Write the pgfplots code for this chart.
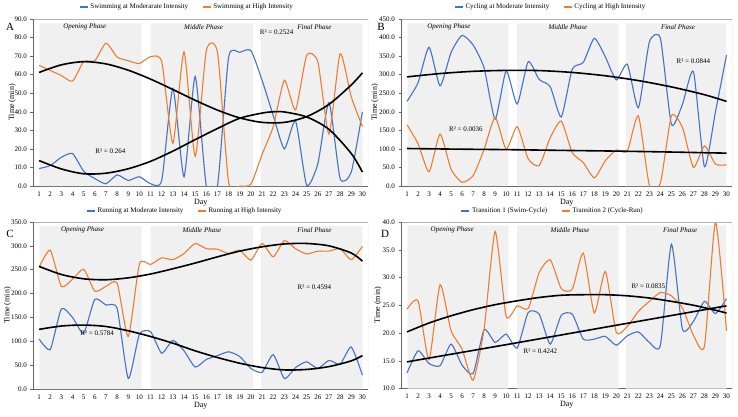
\documentclass[border=0pt]{standalone}
\usepackage{pgfplots}
\pgfplotsset{compat=1.18}
\usepackage{fontspec}
\setmainfont{Liberation Serif}

\definecolor{modblue}{HTML}{4472C4}
\definecolor{highorange}{HTML}{ED7D31}
\definecolor{phasegray}{HTML}{F0F0F0}

\tikzset{
  phase/.style={font=\itshape\fontsize{7}{8}\selectfont},
  rsq/.style={font=\fontsize{7}{8}\selectfont},
  letter/.style={font=\fontsize{11}{13}\selectfont},
}

\pgfplotsset{
  panel/.style={
    scale only axis,
    anchor=south west,
    xmin=0.5, xmax=30.5,
    xtick={1,...,30},
    axis lines*=left,
    axis line style={black!60, line width=0.6pt},
    tick align=outside,
    major tick length=3pt,
    xtick style={draw=none},
    ytick style={black!60, line width=0.5pt},
    tick label style={font=\fontsize{7}{8}\selectfont},
    xticklabel style={yshift=1pt},
    yticklabel style={/pgf/number format/fixed, /pgf/number format/fixed zerofill, /pgf/number format/precision=1},
    /pgf/number format/assume math mode=true,
    label style={font=\fontsize{8}{9}\selectfont},
    xlabel={Day},
    ylabel={Time (min)},
    xlabel style={yshift=4pt},
    ylabel style={anchor=center},
    legend columns=2,
    legend style={draw=none, fill=none, anchor=center,
      font=\fontsize{7}{8}\selectfont,
      /tikz/every even column/.append style={column sep=12pt}},
    legend image code/.code={\draw[#1] (0pt,0pt) -- (8pt,0pt);},
  },
  band/.style={fill=phasegray, draw=none, forget plot},
  series/.style={smooth, tension=0.35, no markers, line width=1.1pt},
  trend/.style={black, smooth, tension=0.5, no markers, line width=1.6pt, forget plot},
}

\begin{document}
\begin{tikzpicture}
\path[use as bounding box] (0pt,0pt) rectangle (738pt,416pt);

% ---------------- A: swimming ----------------
\begin{axis}[panel, at={(33.5pt,230pt)}, width=334.5pt, height=167pt,
  ymin=0, ymax=90, ytick={0,10,...,90},
  ylabel style={at={(axis description cs:-0.064,0.5)}},
  legend style={at={(0.459,1.072)}}]
\addplot[band] coordinates {(1.05,0)(1.05,87.7)(10.2,87.7)(10.2,0)} \closedcycle;
\addplot[band] coordinates {(11.0,0)(11.0,87.7)(20.2,87.7)(20.2,0)} \closedcycle;
\addplot[band] coordinates {(20.9,0)(20.9,87.7)(30,87.7)(30,0)} \closedcycle;
\addplot[series, modblue] coordinates {
 (1,9.4)(2,11)(3,15.5)(4,17.5)(5,8)(6,4)(7,1.2)(8,6)(9,3)(10,5)
 (11,1.2)(12,3)(13,52.6)(14,5)(15,59)(16,0)(17,0)(18,69.5)(19,72)(20,73)
 (21,57)(22,38)(23,20)(24,35)(25,0.4)(26,12)(27,45)(28,4)(29,7.5)(30,40)};
\addlegendentry{Swimming at Moderarate Intensity}
\addplot[series, highorange] coordinates {
 (1,65)(2,62.3)(3,59.5)(4,56.5)(5,67)(6,67.5)(7,77)(8,69.5)(9,67.5)(10,66)
 (11,69.7)(12,67)(13,23)(14,72.3)(15,16)(16,73)(17,72)(18,2)(19,0)(20,1)
 (21,17)(22,32)(23,57)(24,41)(25,70.5)(26,67)(27,28)(28,71.3)(29,48)(30,32)};
\addlegendentry{Swimming at High Intensity}
\addplot[trend] coordinates {
 (1,13.7)(3,9.2)(5,6.6)(7,6.9)(9,9.3)(11,13.3)(13,18.8)(15,25)(17,31)(19,36.5)
 (21,39.3)(22,40)(23,39.9)(25,37.2)(27,30.5)(29,17.5)(30,7.5)};
\addplot[trend] coordinates {
 (1,61.2)(3,65.3)(5,67)(7,65.8)(9,62.4)(11,57.6)(13,52)(15,46.2)(17,40.9)(19,36.7)
 (21,34.3)(23,34.3)(25,37.4)(27,44)(29,54.5)(30,61)};
\node[phase] at (axis cs:5.1,85.7) {Opening Phase};
\node[phase] at (axis cs:15.75,85.7) {Middle Phase};
\node[phase] at (axis cs:25.7,85.7) {Final Phase};
\node[rsq] at (axis cs:22.3,83) {R² = 0.2524};
\node[rsq] at (axis cs:7.4,18.7) {R² = 0.264};
\draw[black!30] (rel axis cs:0,1) -- (rel axis cs:1,1) -- (rel axis cs:1,0);
\end{axis}

% ---------------- B: cycling ----------------
\begin{axis}[panel, at={(401.5pt,230pt)}, width=330.5pt, height=167pt,
  ymin=0, ymax=450, ytick={0,50,...,450},
  ylabel style={at={(axis description cs:-0.08,0.5)}},
  legend style={at={(0.452,1.072)}}]
\addplot[band] coordinates {(1.05,0)(1.05,438)(10.2,438)(10.2,0)} \closedcycle;
\addplot[band] coordinates {(11.0,0)(11.0,438)(20.2,438)(20.2,0)} \closedcycle;
\addplot[band] coordinates {(20.9,0)(20.9,438)(30,438)(30,0)} \closedcycle;
\addplot[series, modblue] coordinates {
 (1,228)(2,278)(3,374)(4,270)(5,360)(6,406)(7,380)(8,318)(9,180)(10,310)
 (11,221)(12,335)(13,287)(14,268)(15,186)(16,315)(17,333)(18,398)(19,348)(20,286)
 (21,328)(22,211)(23,388)(24,398)(25,166)(26,220)(27,308)(28,52)(29,200)(30,353)};
\addlegendentry{Cycling at Moderate Intensity}
\addplot[series, highorange] coordinates {
 (1,165)(2,114)(3,38)(4,140)(5,45)(6,10)(7,28)(8,99)(9,185)(10,99)
 (11,160)(12,73)(13,55)(14,130)(15,175)(16,90)(17,63)(18,22)(19,68)(20,97)
 (21,94)(22,189)(23,2)(24,8)(25,189)(26,158)(27,50)(28,108)(29,59)(30,57)};
\addlegendentry{Cycling at High Intensity}
\addplot[trend] coordinates {
 (1,294)(4,303)(7,309)(10,311.5)(13,311)(16,306)(19,297)(22,284)(25,267)(28,246)(30,228)};
\addplot[trend] coordinates {
 (1,101)(5,99.5)(10,98)(15,96)(20,94)(25,91.5)(30,88.5)};
\node[phase] at (axis cs:4.8,428) {Opening Phase};
\node[phase] at (axis cs:15.6,428) {Middle Phase};
\node[phase] at (axis cs:25.6,428) {Final Phase};
\node[rsq] at (axis cs:27,337) {R² = 0.0844};
\node[rsq] at (axis cs:6.35,154) {R² = 0.0036};
\draw[black!30] (rel axis cs:0,1) -- (rel axis cs:1,1) -- (rel axis cs:1,0);
\end{axis}

% ---------------- C: running ----------------
\begin{axis}[panel, at={(33.5pt,27pt)}, width=334.5pt, height=167pt,
  ymin=0, ymax=350, ytick={0,50,...,350},
  ylabel style={at={(axis description cs:-0.078,0.5)}},
  legend style={at={(0.453,1.066)}}]
\addplot[band] coordinates {(1.05,0)(1.05,341.5)(10.2,341.5)(10.2,0)} \closedcycle;
\addplot[band] coordinates {(11.0,0)(11.0,341.5)(20.2,341.5)(20.2,0)} \closedcycle;
\addplot[band] coordinates {(20.9,0)(20.9,341.5)(30,341.5)(30,0)} \closedcycle;
\addplot[series, modblue] coordinates {
 (1,105)(2,83)(3,168)(4,150)(5,117)(6,188)(7,176)(8,169)(9,22)(10,115)
 (11,120)(12,75)(13,102)(14,80)(15,46)(16,62)(17,70)(18,78)(19,68)(20,43)
 (21,35)(22,72)(23,22)(24,45)(25,57)(26,43)(27,60)(28,52)(29,88)(30,29)};
\addlegendentry{Running at Moderate Intensity}
\addplot[series, highorange] coordinates {
 (1,255)(2,291)(3,215)(4,230)(5,251)(6,205)(7,215)(8,222)(9,110)(10,262)
 (11,261)(12,275)(13,271)(14,284)(15,305)(16,294)(17,293)(18,284)(19,291)(20,270)
 (21,305)(22,277)(23,311)(24,294)(25,283)(26,289)(27,289)(28,294)(29,271)(30,299)};
\addlegendentry{Running at High Intensity}
\addplot[trend] coordinates {
 (1,257)(3,240)(5,231)(7,229)(9,233)(11,241)(13,252)(15,264)(17,277)(19,289)
 (21,298)(23,304)(25,305)(27,300)(29,285)(30,268)};
\addplot[trend] coordinates {
 (1,125)(3,132)(5,134)(7,131)(9,122)(11,110)(13,96)(15,80)(17,66)(19,54)
 (21,45)(23,40)(25,41)(27,47)(29,59)(30,70)};
\node[phase] at (axis cs:4.9,333) {Opening Phase};
\node[phase] at (axis cs:15.6,333) {Middle Phase};
\node[phase] at (axis cs:25.7,333) {Final Phase};
\node[rsq] at (axis cs:25.7,214) {R² = 0.4594};
\node[rsq] at (axis cs:6.2,117) {R² = 0.5784};
\draw[black!30] (rel axis cs:0,1) -- (rel axis cs:1,1) -- (rel axis cs:1,0);
\end{axis}

% ---------------- D: transitions ----------------
\begin{axis}[panel, at={(401.5pt,27.5pt)}, width=330.5pt, height=166.5pt,
  ymin=10, ymax=40, ytick={10,15,...,40},
  ylabel style={at={(axis description cs:-0.071,0.5)}},
  legend style={at={(0.458,1.066)}}]
\addplot[band] coordinates {(1.05,10)(1.05,39.4)(10.2,39.4)(10.2,10)} \closedcycle;
\addplot[band] coordinates {(11.0,10)(11.0,39.4)(20.2,39.4)(20.2,10)} \closedcycle;
\addplot[band] coordinates {(20.9,10)(20.9,39.4)(30,39.4)(30,10)} \closedcycle;
\addplot[series, modblue] coordinates {
 (1,12.8)(2,16.8)(3,14.5)(4,14.1)(5,18)(6,14.2)(7,12.7)(8,20.6)(9,18.3)(10,19.8)
 (11,17.3)(12,23.7)(13,23.4)(14,18)(15,23.2)(16,23.4)(17,18.9)(18,18.9)(19,19.4)(20,17.8)
 (21,19.5)(22,20.2)(23,18.3)(24,17.8)(25,36)(26,20.7)(27,22.1)(28,25.7)(29,23.5)(30,26.2)};
\addlegendentry{Transition 1 (Swim-Cycle)}
\addplot[series, highorange] coordinates {
 (1,24.3)(2,25.8)(3,15.2)(4,28.7)(5,20.4)(6,17.1)(7,11.5)(8,20.8)(9,38.3)(10,23)
 (11,24.9)(12,24.4)(13,30.9)(14,33.2)(15,28)(16,27.9)(17,34.4)(18,23.6)(19,31.1)(20,20.1)
 (21,21.2)(22,23.9)(23,25.7)(24,27.3)(25,26.7)(26,24.5)(27,19.6)(28,17.6)(29,40)(30,20.4)};
\addlegendentry{Transition 2 (Cycle-Run)}
\addplot[trend] coordinates {
 (1,20.2)(3,21.8)(5,23.1)(7,24.2)(9,25.1)(11,25.8)(13,26.4)(15,26.8)(17,26.9)(19,26.9)
 (21,26.7)(23,26.3)(25,25.7)(27,25)(29,24.1)(30,23.6)};
\addplot[trend] coordinates {
 (1,14.8)(10,17.9)(20,21.4)(30,24.9)};
\node[phase] at (axis cs:5.1,38.6) {Opening Phase};
\node[phase] at (axis cs:15.8,38.6) {Middle Phase};
\node[phase] at (axis cs:25.8,38.6) {Final Phase};
\node[rsq] at (axis cs:22.9,28.4) {R² = 0.0835};
\node[rsq] at (axis cs:13.1,16.7) {R² = 0.4242};
\draw[black!30] (rel axis cs:0,1) -- (rel axis cs:1,1) -- (rel axis cs:1,0);
\end{axis}

% panel letters
\node[letter] at (10pt,389pt) {A};
\node[letter] at (381pt,389pt) {B};
\node[letter] at (10pt,182pt) {C};
\node[letter] at (385pt,182pt) {D};
\end{tikzpicture}
\end{document}
